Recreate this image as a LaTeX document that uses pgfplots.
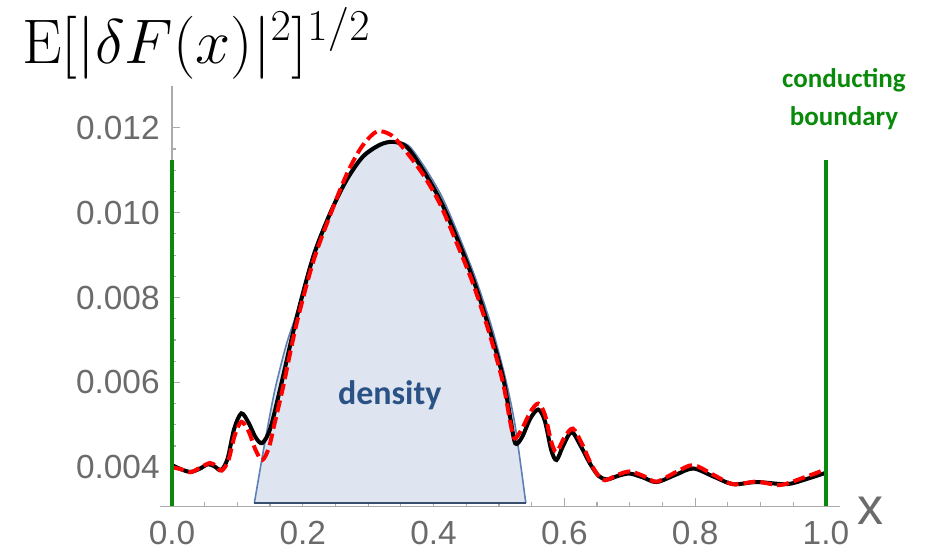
\RequirePackage{fix-cm}
\documentclass[border=0pt]{standalone}
\usepackage[no-math]{fontspec}
\setmainfont{Liberation Sans}
\newfontfamily\carlito{Carlito}
\usepackage{pgfplots}
\pgfplotsset{compat=1.18}
\definecolor{tickgray}{HTML}{6B6B6B}
\definecolor{axgray}{HTML}{ABABAB}
\definecolor{dgreen}{HTML}{0A8A0A}
\definecolor{densline}{HTML}{5E81B5}
\definecolor{densfill}{HTML}{DEE4F0}
\definecolor{denstext}{HTML}{2A5285}
\pgfplotstableread{
x y
0.000 0.00405
0.014 0.00395
0.028 0.00389
0.042 0.00396
0.055 0.00407
0.065 0.00402
0.075 0.00393
0.085 0.00420
0.095 0.00490
0.106 0.00527
0.117 0.00505
0.128 0.00470
0.138 0.00457
0.150 0.00490
0.165 0.00582
0.191 0.00755
0.216 0.00896
0.242 0.00999
0.267 0.01077
0.292 0.01132
0.318 0.01160
0.338 0.01167
0.359 0.01155
0.384 0.01100
0.410 0.01030
0.435 0.00943
0.461 0.00841
0.486 0.00723
0.506 0.00613
0.518 0.00510
0.525 0.00456
0.535 0.00470
0.548 0.00515
0.560 0.00536
0.570 0.00510
0.580 0.00440
0.588 0.00417
0.598 0.00450
0.611 0.00483
0.625 0.00450
0.639 0.00409
0.652 0.00380
0.665 0.00371
0.683 0.00380
0.700 0.00385
0.720 0.00376
0.741 0.00365
0.770 0.00382
0.797 0.00397
0.828 0.00378
0.858 0.00360
0.894 0.00365
0.940 0.00360
0.970 0.00372
1.000 0.00387
}\blackdata
\pgfplotstableread{
x y
0.000 0.00400
0.014 0.00395
0.028 0.00388
0.042 0.00398
0.058 0.00410
0.068 0.00402
0.076 0.00392
0.086 0.00415
0.096 0.00475
0.106 0.00507
0.117 0.00485
0.128 0.00440
0.138 0.00417
0.148 0.00445
0.157 0.00504
0.170 0.00590
0.190 0.00735
0.216 0.00885
0.242 0.00995
0.267 0.01090
0.290 0.01155
0.313 0.01191
0.335 0.01183
0.355 0.01150
0.384 0.01090
0.410 0.01020
0.435 0.00930
0.461 0.00830
0.486 0.00712
0.506 0.00600
0.518 0.00500
0.524 0.00468
0.535 0.00490
0.548 0.00530
0.560 0.00550
0.570 0.00525
0.580 0.00460
0.588 0.00436
0.600 0.00470
0.613 0.00491
0.627 0.00455
0.640 0.00410
0.652 0.00380
0.662 0.00369
0.683 0.00383
0.700 0.00390
0.720 0.00380
0.741 0.00366
0.770 0.00388
0.797 0.00405
0.828 0.00382
0.858 0.00360
0.894 0.00366
0.930 0.00358
0.965 0.00375
1.000 0.00395
}\reddata
\pgfplotstableread{
x y
0.126 0.00316
0.141 0.00450
0.157 0.00580
0.175 0.00690
0.191 0.00765
0.216 0.00905
0.242 0.01005
0.267 0.01083
0.292 0.01137
0.318 0.01163
0.340 0.01168
0.362 0.01158
0.386 0.01108
0.412 0.01040
0.437 0.00952
0.463 0.00850
0.488 0.00735
0.509 0.00615
0.5245 0.00500
0.541 0.00316
}\densdata
\begin{document}
\begin{tikzpicture}
\begin{axis}[
  scale only axis, width=340pt, height=210pt,
  xmin=-0.01835, xmax=1.0214, ymin=0.00308, ymax=0.01298,
  axis x line*=bottom, axis y line*=middle,
  hide obscured x ticks=false, hide obscured y ticks=false,
  axis line style={axgray, line width=0.7pt},
  tick align=inside,
  major tick length=4pt, minor tick length=2.2pt,
  every tick/.style={axgray, line width=0.6pt},
  xtick={0,0.2,0.4,0.6,0.8,1.0},
  xticklabels={0.0,0.2,0.4,0.6,0.8,1.0},
  ytick={0.004,0.006,0.008,0.010,0.012},
  yticklabels={0.004,0.006,0.008,0.010,0.012},
  scaled x ticks=false, scaled y ticks=false,
  minor x tick num=3, minor y tick num=3,
  xticklabel style={font=\fontsize{16.7}{20}\selectfont, text=tickgray, inner sep=0pt, anchor=north, yshift=-7.5pt},
  yticklabel style={font=\fontsize{16.7}{20}\selectfont, text=tickgray, inner sep=0pt, anchor=east, xshift=-6pt},
  clip=false,
]
\path (axis cs:-0.263,0.001972) rectangle (axis cs:1.153,0.015014);
\addplot[draw=none, fill=densfill, smooth, tension=0.45] table {\densdata};
\addplot[densline, line width=0.8pt, smooth, tension=0.45] table {\densdata};
\addplot[densline!60!black, line width=0.8pt] coordinates {(0.126,0.00316) (0.541,0.00316)};
\addplot[black, line width=2pt, smooth] table {\blackdata};
\addplot[red, line width=2pt, smooth, dash pattern=on 6pt off 2.5pt] table {\reddata};
\addplot[dgreen, line width=2pt] coordinates {(0,0.00308) (0,0.01124)};
\addplot[dgreen, line width=2pt] coordinates {(1,0.00308) (1,0.01124)};
\node[anchor=base west, inner sep=0pt] at (axis cs:-0.2294,0.013528) {\fontsize{31.5}{34}\selectfont$\mathrm{E}[|\delta F(x)|^2]^{1/2}$};
\node[text=denstext, font=\carlito\bfseries\fontsize{17}{20}\selectfont] at (axis cs:0.333,0.0057) {density};
\node[text=dgreen, font=\carlito\bfseries\fontsize{13.5}{16}\selectfont, anchor=base, inner sep=0pt] at (axis cs:1.0275,0.012962) {conducting};
\node[text=dgreen, font=\carlito\bfseries\fontsize{13.5}{16}\selectfont, anchor=base, inner sep=0pt] at (axis cs:1.0275,0.012066) {boundary};
\node[text=tickgray, font=\fontsize{26}{30}\selectfont, inner sep=0pt] at (axis cs:1.0688,0.002974) {x};
\end{axis}
\end{tikzpicture}
\end{document}
